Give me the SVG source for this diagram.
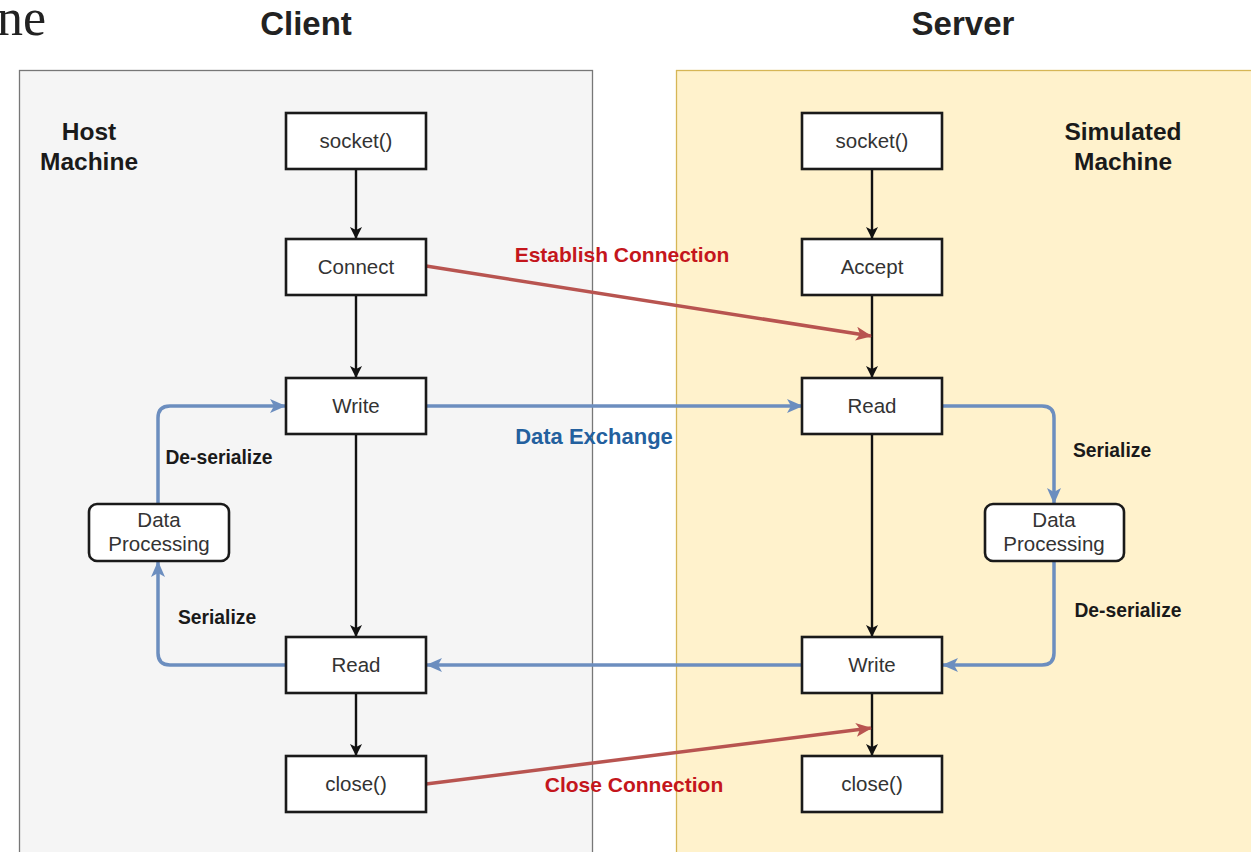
<svg xmlns="http://www.w3.org/2000/svg" width="1251" height="852" viewBox="0 0 1251 852">
  <style>
    .box { fill: #ffffff; stroke: #1a1a1a; stroke-width: 2.6; }
    .lbl { font-family: "Liberation Sans", Arial, sans-serif; font-size: 20.5px; fill: #333333; text-anchor: middle; }
    .title { font-family: "Liberation Sans", Arial, sans-serif; font-size: 33px; font-weight: bold; fill: #222222; text-anchor: middle; }
    .side { font-family: "Liberation Sans", Arial, sans-serif; font-size: 24.5px; font-weight: bold; fill: #1a1a1a; text-anchor: middle; }
    .step { font-family: "Liberation Sans", Arial, sans-serif; font-size: 19.3px; font-weight: bold; fill: #1a1a1a; text-anchor: middle; }
    .red { font-family: "Liberation Sans", Arial, sans-serif; font-size: 21px; font-weight: bold; fill: #c4161c; text-anchor: middle; }
    .blue { font-family: "Liberation Sans", Arial, sans-serif; font-size: 22px; font-weight: bold; fill: #23609e; text-anchor: middle; }
    .flow { fill: none; stroke: #111111; stroke-width: 2.4; marker-end: url(#ab); }
    .data { fill: none; stroke: #6c8ebf; stroke-width: 3.5; marker-end: url(#abl); }
    .conn { fill: none; stroke: #b85450; stroke-width: 3.5; marker-end: url(#ar); }
  </style>
  <defs>
    <marker id="ab" markerWidth="12" markerHeight="12" refX="11" refY="6" orient="auto" markerUnits="userSpaceOnUse">
      <path d="M0,0 L12,6 L0,12 L3,6 Z" fill="#111111"/>
    </marker>
    <marker id="abl" markerWidth="16" markerHeight="14" refX="15" refY="7" orient="auto" markerUnits="userSpaceOnUse">
      <path d="M0,0 L16,7 L0,14 L4,7 Z" fill="#6c8ebf"/>
    </marker>
    <marker id="ar" markerWidth="16" markerHeight="14" refX="15" refY="7" orient="auto" markerUnits="userSpaceOnUse">
      <path d="M0,0 L16,7 L0,14 L4,7 Z" fill="#b85450"/>
    </marker>
  </defs>

  <rect width="1251" height="852" fill="#ffffff"/>
  <text x="-3" y="35" font-family="Liberation Serif, serif" font-size="52" fill="#222222">ne</text>

  <!-- swimlanes -->
  <g id="client-lane">
    <rect x="19.5" y="70.5" width="573" height="790" fill="#f5f5f5" stroke="#777777" stroke-width="1.3"/>
    <text class="title" x="306" y="35">Client</text>
    <text class="side" x="89" y="140">Host</text>
    <text class="side" x="89" y="170">Machine</text>
  </g>
  <g id="server-lane">
    <rect x="676.5" y="70.5" width="590" height="790" fill="#fff2cc" stroke="#d6b656" stroke-width="1.3"/>
    <text class="title" x="963" y="35">Server</text>
    <text class="side" x="1123" y="140">Simulated</text>
    <text class="side" x="1123" y="170">Machine</text>
  </g>

  <!-- connectors -->
  <g id="connectors">
    <line class="flow" x1="356" y1="169" x2="356" y2="238"/>
    <line class="flow" x1="356" y1="295" x2="356" y2="377"/>
    <line class="flow" x1="356" y1="434" x2="356" y2="636"/>
    <line class="flow" x1="356" y1="693" x2="356" y2="755"/>
    <line class="flow" x1="872" y1="169" x2="872" y2="238"/>
    <line class="flow" x1="872" y1="295" x2="872" y2="377"/>
    <line class="flow" x1="872" y1="434" x2="872" y2="636"/>
    <line class="flow" x1="872" y1="693" x2="872" y2="755"/>

    <line class="data" x1="426" y1="406" x2="802" y2="406"/>
    <line class="data" x1="802" y1="665" x2="427" y2="665"/>
    <path class="data" d="M942,406 H1042 Q1054,406 1054,418 V503"/>
    <path class="data" d="M1054,561 V653 Q1054,665 1042,665 H943"/>
    <path class="data" d="M286,665 H170 Q158,665 158,653 V562"/>
    <path class="data" d="M158,504 V418 Q158,406 170,406 H285"/>

    <line class="conn" x1="426" y1="266" x2="871" y2="336"/>
    <line class="conn" x1="426" y1="784" x2="871" y2="728"/>

    <text class="red" x="622" y="262">Establish Connection</text>
    <text class="red" x="634" y="792">Close Connection</text>
    <text class="blue" x="594" y="444">Data Exchange</text>
    <text class="step" x="219" y="464">De-serialize</text>
    <text class="step" x="217" y="624">Serialize</text>
    <text class="step" x="1112" y="457">Serialize</text>
    <text class="step" x="1128" y="617">De-serialize</text>
  </g>

  <!-- client nodes -->
  <g id="c-socket"><rect class="box" x="286" y="113" width="140" height="56"/><text class="lbl" x="356" y="148">socket()</text></g>
  <g id="c-connect"><rect class="box" x="286" y="239" width="140" height="56"/><text class="lbl" x="356" y="274">Connect</text></g>
  <g id="c-write"><rect class="box" x="286" y="378" width="140" height="56"/><text class="lbl" x="356" y="413">Write</text></g>
  <g id="c-read"><rect class="box" x="286" y="637" width="140" height="56"/><text class="lbl" x="356" y="672">Read</text></g>
  <g id="c-close"><rect class="box" x="286" y="756" width="140" height="56"/><text class="lbl" x="356" y="791">close()</text></g>
  <g id="c-proc"><rect class="box" x="89" y="504" width="140" height="57" rx="8"/><text class="lbl" x="159" y="527" font-size="18.5">Data</text><text class="lbl" x="159" y="551" font-size="18.5">Processing</text></g>

  <!-- server nodes -->
  <g id="s-socket"><rect class="box" x="802" y="113" width="140" height="56"/><text class="lbl" x="872" y="148">socket()</text></g>
  <g id="s-accept"><rect class="box" x="802" y="239" width="140" height="56"/><text class="lbl" x="872" y="274">Accept</text></g>
  <g id="s-read"><rect class="box" x="802" y="378" width="140" height="56"/><text class="lbl" x="872" y="413">Read</text></g>
  <g id="s-write"><rect class="box" x="802" y="637" width="140" height="56"/><text class="lbl" x="872" y="672">Write</text></g>
  <g id="s-close"><rect class="box" x="802" y="756" width="140" height="56"/><text class="lbl" x="872" y="791">close()</text></g>
  <g id="s-proc"><rect class="box" x="985" y="504" width="139" height="57" rx="8"/><text class="lbl" x="1054" y="527" font-size="18.5">Data</text><text class="lbl" x="1054" y="551" font-size="18.5">Processing</text></g>
</svg>
